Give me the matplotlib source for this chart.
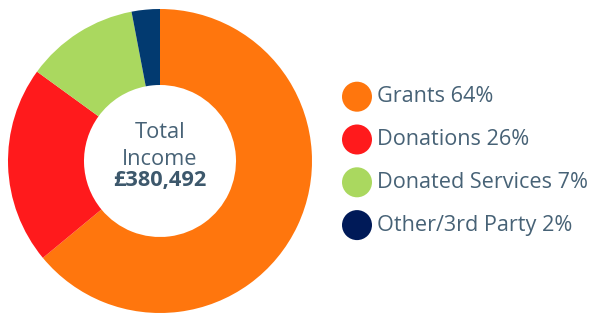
import matplotlib
matplotlib.use("Agg")
import matplotlib.pyplot as plt
from matplotlib.patches import Circle

plt.rcParams['font.family'] = ['Open Sans', 'DejaVu Sans']

# Data
categories = ["Grants", "Donations", "Donated Services", "Other/3rd Party"]
slice_values = [64, 21, 12, 3]          # slice sizes as drawn
legend_pct = [64, 26, 7, 2]              # percentages printed in legend
slice_colors = ["#FF760D", "#FF1A1C", "#AAD85F", "#023A70"]
legend_colors = ["#FF760D", "#FF1A1C", "#AAD85F", "#001A58"]
total_label = "£380,492"

W, H = 589, 313
fig = plt.figure(figsize=(W / 100, H / 100), dpi=100)
ax = fig.add_axes([0, 0, 1, 1])

cx, cy = 160, H - 161
R_out, R_in = 152, 76

ax.pie(slice_values, colors=slice_colors, startangle=90, counterclock=False,
       center=(cx, cy), radius=R_out,
       wedgeprops=dict(width=R_out - R_in, linewidth=0))
ax.set_xlim(0, W)
ax.set_ylim(0, H)
ax.set_aspect('equal')
ax.axis('off')

txt_color = "#476276"
ax.text(cx, H - 137.5, "Total", ha='center', va='baseline', fontsize=15.7, color=txt_color)
ax.text(cx, H - 165, "Income", ha='center', va='baseline', fontsize=15.7, color=txt_color)
ax.text(cx, H - 186, total_label, ha='center', va='baseline', fontsize=15.7,
        fontweight='bold', color="#3D586C")

# Legend
for i, (cat, p, col) in enumerate(zip(categories, legend_pct, legend_colors)):
    yc = 96.7 + i * 42.8
    ax.add_patch(Circle((357, H - yc), 15, color=col, linewidth=0))
    ax.text(377, H - (yc + 5.6), f"{cat} {p}%", ha='left', va='baseline', fontsize=15.6,
            color=txt_color)

fig.savefig("out.png", dpi=100)
